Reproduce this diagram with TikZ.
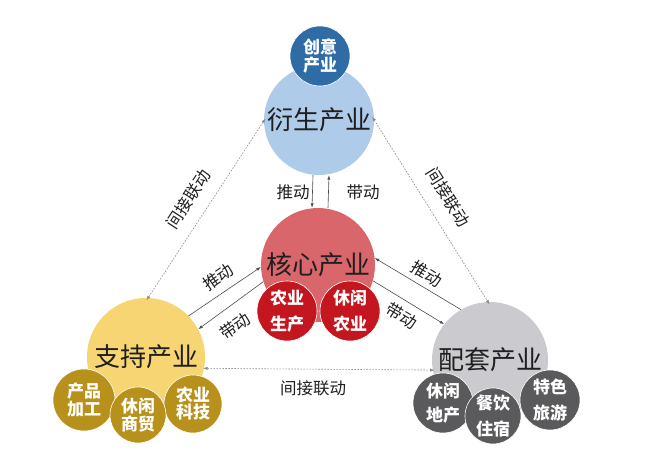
\documentclass[tikz,border=0pt]{standalone}
\usepackage{fontspec}
\setmainfont{Noto Sans CJK SC}
\usetikzlibrary{arrows.meta}
\definecolor{topblue}{HTML}{AECBEA}
\definecolor{deepblue}{HTML}{2F6CA6}
\definecolor{coral}{HTML}{D9666B}
\definecolor{deepred}{HTML}{C3161E}
\definecolor{sunyel}{HTML}{F7D572}
\definecolor{gold}{HTML}{B8911C}
\definecolor{lgray}{HTML}{CBCBCF}
\definecolor{dgray}{HTML}{5A5A5C}
\begin{document}
\begin{tikzpicture}[x=1pt,y=-1pt,
  bigc/.style={circle, inner sep=0pt, minimum size=#1, text=black!88,
    font=\fontsize{26}{30}\selectfont},
  subc/.style={circle, inner sep=0pt, minimum size=#1, draw=white, line width=0.6pt,
    text=white, align=center},
  sf/.style={font=\bfseries\fontsize{17}{#1}\selectfont},
  arr/.style={-{Latex[length=4.5pt,width=3.2pt]}, line width=0.6pt, draw=black!70},
  dsh/.style={{Latex[length=4.5pt,width=3.2pt]}-{Latex[length=4.5pt,width=3.2pt]},
    dash pattern=on 1.6pt off 1.4pt, line width=0.6pt, draw=black!45},
  lbl/.style={font=\fontsize{16.5}{18}\selectfont, text=black!88, inner sep=0pt}]
\useasboundingbox[fill=white] (0,0) rectangle (647,457);

% main circles
\node[bigc=110pt, fill=topblue] (top) at (319,120) {衍生产业};
\node[bigc=114pt, fill=coral] (core) at (318,265) {核心产业};
\node[bigc=118pt, fill=sunyel] (sup) at (146,357) {支持产业};
\node[bigc=116pt, fill=lgray] (conf) at (490,360) {配套产业};

% sub circles
\node[subc=60pt, fill=deepblue, sf=18] (cy) at (320,56) {创意\\产业};

\node[subc=60pt, fill=deepred, sf=26] (nysc) at (287,311) {农业\\生产};
\node[subc=60pt, fill=deepred, sf=26] (xxny) at (350,311) {休闲\\农业};

\node[subc=62pt, fill=gold, sf=18] (cpjg) at (84,400) {产品\\加工};
\node[subc=58pt, fill=gold, sf=17] (xxsm) at (193,404) {农业\\科技};
\node[subc=56pt, fill=gold, sf=18] (nykj) at (138,415) {休闲\\商贸};

\node[subc=60pt, fill=dgray, sf=24] (xxdc) at (443,403) {休闲\\地产};
\node[subc=60pt, fill=dgray, sf=26] (tsly) at (550,400) {特色\\旅游};
\node[subc=56pt, fill=dgray, sf=26] (cyzs) at (493,416) {餐饮\\住宿};

% top <-> core
\draw[arr] ([xshift=-6pt]top.south) -- ([xshift=-6pt]core.north);
\draw[arr] ([xshift=10pt]core.north) -- ([xshift=10pt]top.south);
\node[lbl] (l1) at (293,192) {推动};
\node[lbl] (l2) at (363,192) {带动};

% support <-> core
\draw[arr] (sup.44) -- (core.182);
\draw[arr] (core.197) -- (sup.28);
\node[lbl, rotate=35] (l3) at (218,277) {推动};
\node[lbl, rotate=35] (l4) at (235,326) {带动};

% config <-> core
\draw[arr] (conf.120) -- (core.7);
\draw[arr] (core.344) -- (conf.142);
\node[lbl, rotate=-31] (l5) at (427,274) {推动};
\node[lbl, rotate=-31] (l6) at (402,316) {带动};

% indirect links
\draw[dsh, shorten <=-3pt, shorten >=-3pt] (sup.88) -- (top.181);
\draw[dsh, shorten <=-4pt, shorten >=-3pt] (top.0) -- (conf.92);
\draw[dsh, shorten <=-1pt, shorten >=-2pt] (sup.-11) -- (conf.190);
\node[lbl, rotate=57] (l7) at (188,199) {间接联动};
\node[lbl, rotate=-58] (l8) at (448,197) {间接联动};
\node[lbl] (l9) at (313,388) {间接联动};
\end{tikzpicture}
\end{document}
